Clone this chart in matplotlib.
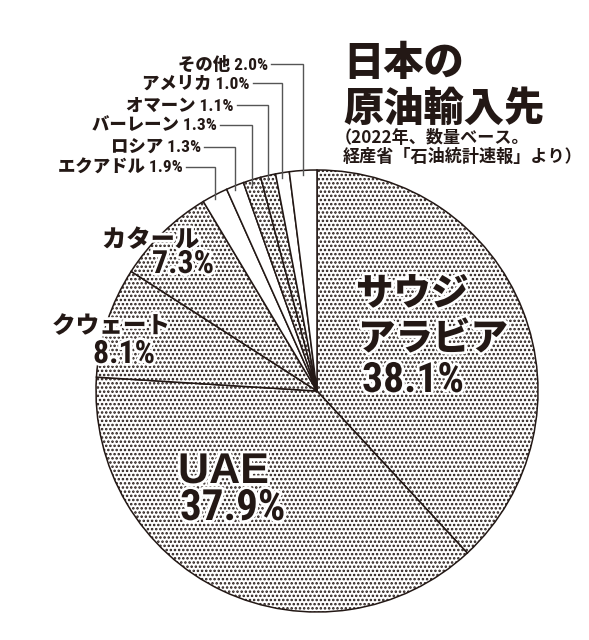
import matplotlib
matplotlib.use("Agg")
import matplotlib.pyplot as plt
from matplotlib import font_manager as fm
import matplotlib.patheffects as pe
import numpy as np

# ---------------- data ----------------
countries = ["サウジアラビア", "UAE", "クウェート", "カタール", "エクアドル",
             "ロシア", "バーレーン", "オマーン", "アメリカ", "その他"]
shares = [38.1, 37.9, 8.1, 7.3, 1.9, 1.3, 1.3, 1.1, 1.0, 2.0]
dotted = [True, True, True, True, False, False, True, True, False, False]
title_lines = ["日本の", "原油輸入先"]
subtitle_lines = ["（2022年、数量ベース。", "経産省「石油統計速報」より）"]

# ---------------- style ----------------
W, H = 589, 640
INK = "#231815"
LEADER = "#555555"
avail = {f.name for f in fm.fontManager.ttflist}
NARROW = next((n for n in ["Liberation Sans Narrow", "DejaVu Sans Condensed",
                           "Roboto Condensed", "Liberation Sans"] if n in avail),
              "DejaVu Sans")
CJK = "Noto Sans CJK JP"
plt.rcParams["font.family"] = [CJK, "DejaVu Sans"]
plt.rcParams["hatch.linewidth"] = 1.2

fig = plt.figure(figsize=(W / 100, H / 100), dpi=100)
ax = fig.add_axes([0, 0, 1, 1])

cx, cy, R = 317, H - 391, 221
wedges, _ = ax.pie(shares, startangle=90, counterclock=False,
                   center=(cx, cy), radius=R, colors=["white"] * len(shares),
                   wedgeprops=dict(edgecolor=INK, linewidth=1.1))
for w, d in zip(wedges, dotted):
    if d:
        w.set_hatch("....")
ax.set_aspect("auto")
ax.set_xlim(0, W)
ax.set_ylim(0, H)
ax.axis("off")

halo = [pe.withStroke(linewidth=4, foreground="white")]

def Y(py):
    return H - py

# ---------------- title ----------------
ax.text(343, Y(75), title_lines[0], fontsize=29, fontweight="black",
        color=INK, family=[CJK], ha="left", va="baseline")
ax.text(343, Y(121), title_lines[1], fontsize=29, fontweight="black",
        color=INK, family=[CJK], ha="left", va="baseline")
ax.text(335, Y(143), subtitle_lines[0], fontsize=12.3, fontweight="bold",
        color=INK, family=[CJK], ha="left", va="baseline")
ax.text(343, Y(162), subtitle_lines[1], fontsize=12.3, fontweight="bold",
        color=INK, family=[CJK], ha="left", va="baseline")

# ---------------- big labels ----------------
def lab(x, py, s, size, fam):
    ax.text(x, Y(py), s, fontsize=size, fontweight="black", color=INK,
            family=fam, ha="left", va="baseline", path_effects=halo)

def pct(v):
    return f"{v:.1f}%"

lab(356, 305, "サウジ", 27, [CJK])
lab(358, 350, "アラビア", 27, [CJK])
lab(362, 392, pct(shares[0]), 30, [NARROW, CJK])

lab(178, 483, countries[1], 31, ["Liberation Sans", CJK])
lab(180, 520, pct(shares[1]), 31, [NARROW, CJK])

lab(52, 333, countries[2], 17, [CJK])
lab(93, 363, pct(shares[2]), 23, [NARROW, CJK])

lab(102, 247, countries[3], 17.5, [CJK])
lab(152, 273, pct(shares[3]), 23, [NARROW, CJK])

# ---------------- small slices with leader lines ----------------
label_y = {4: 167, 5: 147, 6: 125, 7: 105, 8: 83, 9: 64}
text_end = {4: 183, 5: 201, 6: 217, 7: 234, 8: 250, 9: 268}
for i in range(4, len(shares)):
    w = wedges[i]
    mid = np.deg2rad((w.theta1 + w.theta2) / 2)
    lx = cx + R * np.cos(mid)
    ly_bottom = cy + (R - 5) * np.sin(mid)
    ly = Y(label_y[i])
    ax.plot([text_end[i] + 3, lx, lx], [ly, ly, ly_bottom], color=LEADER,
            lw=1.0, solid_joinstyle="miter")
    ax.text(text_end[i], ly - 5.5, f"{countries[i]} {pct(shares[i])}",
            fontsize=12.5, fontweight="black", color=INK,
            family=[NARROW, CJK], ha="right", va="baseline")

fig.savefig("out.png", dpi=100)
